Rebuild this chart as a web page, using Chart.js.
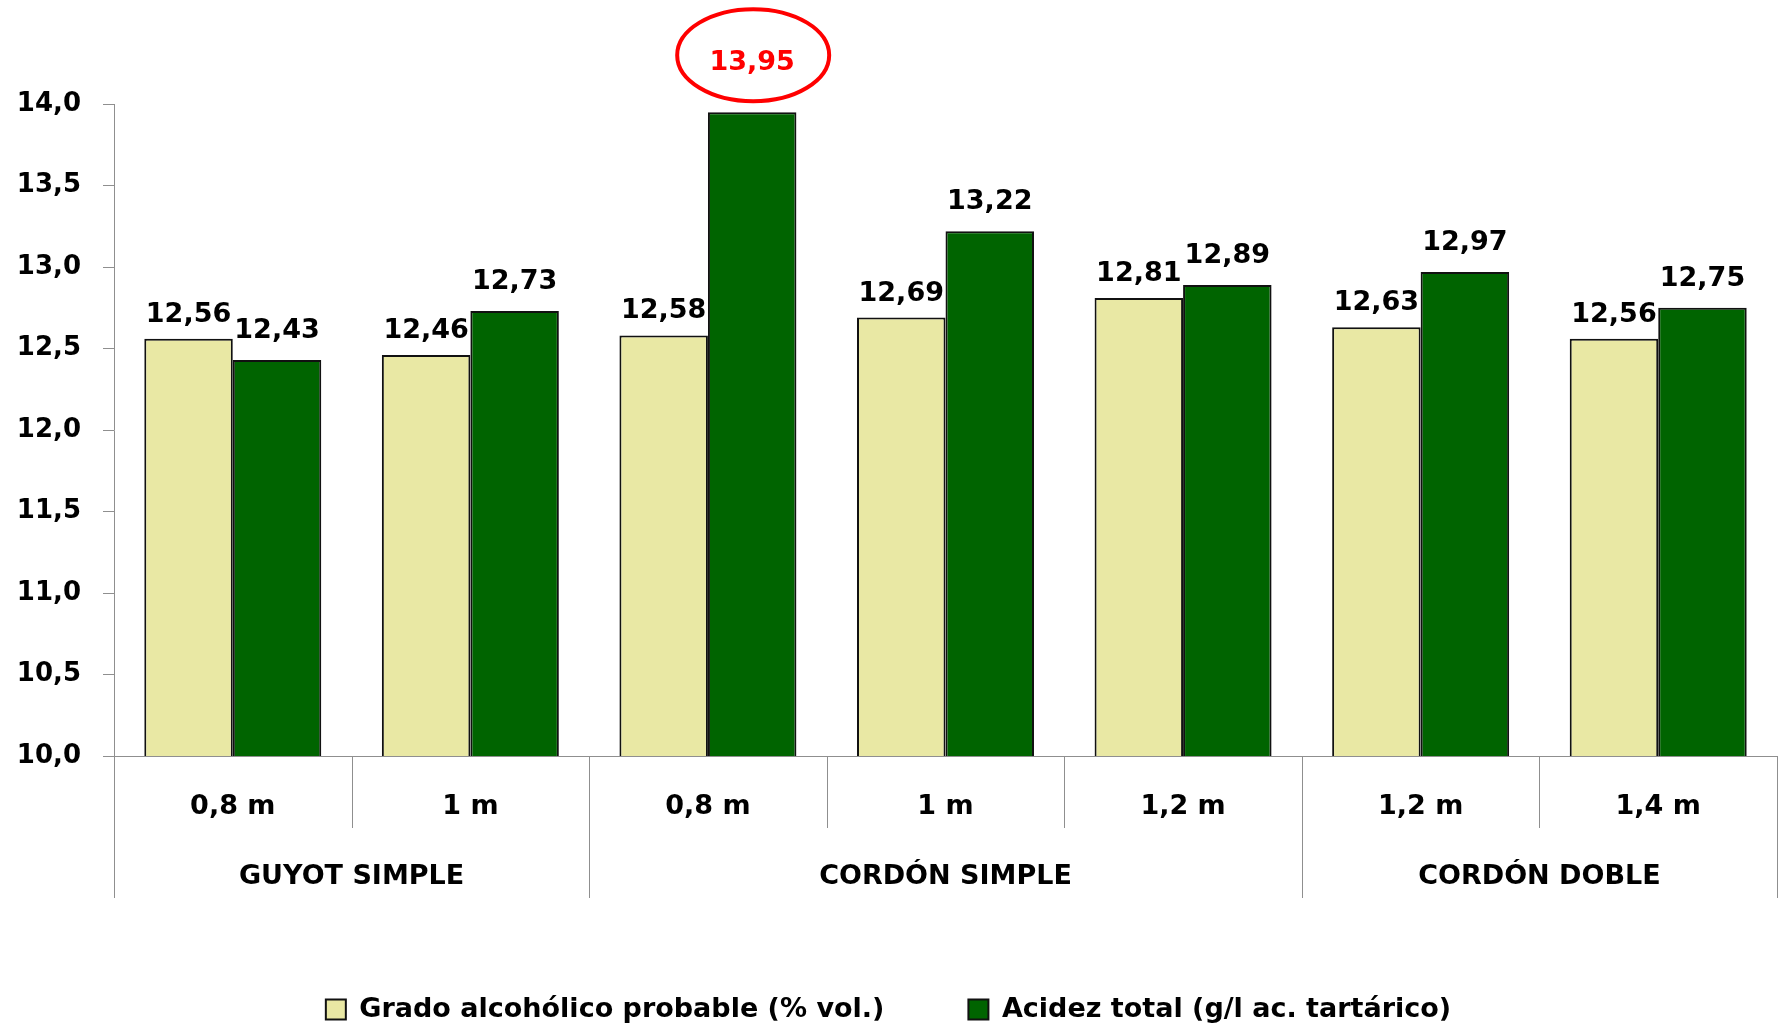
<!DOCTYPE html>
<html>
<head>
<meta charset="utf-8">
<script src="https://cdn.jsdelivr.net/npm/chart.js@4.4.1/dist/chart.umd.min.js"></script>
<style>
  body { margin: 0; background: #ffffff; }
  #wrap { width: 1781px; height: 1029px; }
</style>
</head>
<body>
<div id="wrap"><canvas id="vinechart" width="1781" height="1029"></canvas></div>
<script>
// DATA ---------------------------------------------------------------
const categories = ["0,8 m", "1 m", "0,8 m", "1 m", "1,2 m", "1,2 m", "1,4 m"];
const groups = ["GUYOT SIMPLE", "CORDÓN SIMPLE", "CORDÓN DOBLE"];
const groupSizes = [2, 3, 2];
const grado = [12.56, 12.46, 12.58, 12.69, 12.81, 12.63, 12.56];
const acidez = [12.43, 12.73, 13.95, 13.22, 12.89, 12.97, 12.75];
const seriesNames = ["Grado alcohólico probable (% vol.)", "Acidez total (g/l ac. tartárico)"];
const yMin = 10, yMax = 14, yStep = 0.5;
const highlightIndex = 2; // the circled acidez value

// STYLE --------------------------------------------------------------
var FONT = '"DejaVu Sans", sans-serif';
var axisGray = '#8f8f8f';

function comma(v, dec) { return v.toFixed(dec).replace('.', ','); }

// value labels above bars + red ellipse round the highlighted one
var valueLabels = {
    id: 'valueLabels',
    afterDatasetsDraw: function (chart) {
        var ctx = chart.ctx;
        ctx.save();
        ctx.font = 'bold 27px ' + FONT;
        ctx.textAlign = 'center';
        ctx.textBaseline = 'alphabetic';
        chart.data.datasets.forEach(function (ds, d) {
            chart.getDatasetMeta(d).data.forEach(function (bar, i) {
                var txt = comma(ds.data[i], 2);
                var hot = (d === 1 && i === highlightIndex);
                var y = bar.y - (hot ? 42 : ds.labelOffset);
                ctx.fillStyle = hot ? '#ff0000' : '#000000';
                ctx.fillText(txt, bar.x, y);
                if (hot) {
                    ctx.beginPath();
                    ctx.strokeStyle = '#ff0000';
                    ctx.lineWidth = 4;
                    ctx.ellipse(bar.x + 1, y - 15, 76, 46, 0, 0, Math.PI * 2);
                    ctx.stroke();
                }
            });
        });
        ctx.restore();
    }
};

// second level of the category axis (group names + separators)
var groupAxis = {
    id: 'groupAxis',
    afterDraw: function (chart) {
        var ctx = chart.ctx;
        var xs = chart.scales.x;
        var step = xs.getPixelForValue(1) - xs.getPixelForValue(0);
        var y0 = chart.chartArea.bottom;
        var edges = [0];
        groupSizes.forEach(function (s) { edges.push(edges[edges.length - 1] + s); });

        ctx.save();
        ctx.strokeStyle = axisGray;
        ctx.lineWidth = 1;
        ctx.beginPath();
        for (var k = 0; k <= categories.length; k++) {
            var x = Math.round(xs.getPixelForValue(k) - step / 2) + 0.5;
            var len = edges.indexOf(k) >= 0 ? 142 : 72;
            ctx.moveTo(x, y0);
            ctx.lineTo(x, y0 + len);
        }
        ctx.stroke();

        ctx.font = 'bold 27px ' + FONT;
        ctx.fillStyle = '#000000';
        ctx.textAlign = 'center';
        ctx.textBaseline = 'middle';
        groups.forEach(function (g, j) {
            var a = xs.getPixelForValue(edges[j]) - step / 2;
            var b = xs.getPixelForValue(edges[j + 1]) - step / 2;
            ctx.fillText(g, (a + b) / 2, y0 + 121);
        });
        ctx.restore();
    }
};

new Chart("vinechart", {
    type: 'bar',
    data: {
        labels: categories,
        datasets: [{
            label: seriesNames[0],
            data: grado,
            backgroundColor: '#e9e8a4',
            borderColor: '#111111',
            borderWidth: 2,
            labelOffset: 17
        }, {
            label: seriesNames[1],
            data: acidez,
            backgroundColor: '#006400',
            borderColor: '#111111',
            borderWidth: 2,
            labelOffset: 22
        }]
    },
    options: {
        responsive: false,
        animation: false,
        devicePixelRatio: 1,
        barPercentage: 1.0,
        categoryPercentage: 0.745,
        layout: { padding: { top: 104, right: 4, bottom: -4, left: 0 } },
        scales: {
            x: {
                grid: { drawOnChartArea: false, drawTicks: false },
                border: { display: true, color: axisGray, width: 1 },
                ticks: {
                    padding: 35,
                    color: '#000000',
                    font: { family: FONT, size: 27, weight: 'bold' }
                },
                afterFit: function (scale) { scale.height = 156; }
            },
            y: {
                min: yMin,
                max: yMax,
                grid: { drawOnChartArea: false, drawTicks: true, tickLength: 11, color: axisGray },
                border: { display: true, color: axisGray, width: 1 },
                ticks: {
                    stepSize: yStep,
                    padding: 22,
                    color: '#000000',
                    font: { family: FONT, size: 26, weight: 'bold' },
                    callback: function (v) { return comma(v, 1); }
                },
                afterFit: function (scale) { scale.width = 114; }
            }
        },
        plugins: {
            legend: {
                position: 'bottom',
                labels: {
                    boxWidth: 20,
                    boxHeight: 20,
                    padding: 84,
                    color: '#000000',
                    font: { family: FONT, size: 27, weight: 'bold' }
                }
            },
            tooltip: { enabled: false }
        }
    },
    plugins: [valueLabels, groupAxis]
});
</script>
</body>
</html>
